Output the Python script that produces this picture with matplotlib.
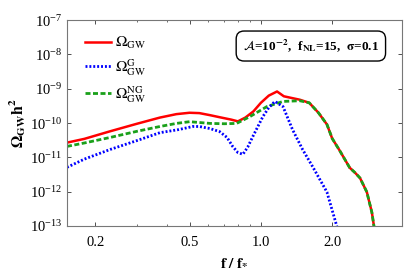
import numpy as np
import matplotlib
matplotlib.use("Agg")
import matplotlib.pyplot as plt
from matplotlib.ticker import FixedLocator, FixedFormatter, LogLocator, NullLocator

plt.rcParams['font.family'] = ['Liberation Serif', 'DejaVu Serif']
plt.rcParams['mathtext.fontset'] = 'stix'

# values, log10 of Omega_GW h^2
f_tot = [0.152, 0.18, 0.231, 0.30, 0.375, 0.44, 0.50, 0.55, 0.61, 0.67, 0.75, 0.80, 0.86, 0.93,
         1.0, 1.08, 1.17, 1.25, 1.35, 1.46, 1.60, 1.75, 1.90, 2.0, 2.15, 2.37, 2.50, 2.62, 2.80, 2.94, 3.0, 3.05]
lg_tot = [-10.57, -10.46, -10.24, -10.02, -9.84, -9.74, -9.70, -9.71, -9.77, -9.83, -9.90, -9.95, -9.84, -9.66,
          -9.41, -9.20, -9.08, -9.22, -9.27, -9.32, -9.41, -9.70, -10.04, -10.45, -10.80, -11.30, -11.45, -11.60, -12.01, -12.6, -13.0, -13.3]

f_g = [0.152, 0.18, 0.231, 0.30, 0.375, 0.45, 0.516, 0.55, 0.61, 0.67, 0.72, 0.76, 0.80, 0.84, 0.88, 0.925,
       1.02, 1.08, 1.146, 1.24, 1.36, 1.50, 1.66, 1.90, 2.09, 2.12]
lg_g = [-11.29, -11.05, -10.77, -10.51, -10.28, -10.19, -10.10, -10.10, -10.16, -10.25, -10.42, -10.68, -10.86, -10.91, -10.70, -10.39,
        -9.81, -9.55, -9.37, -9.52, -10.19, -10.77, -11.29, -12.01, -13.0, -13.3]

f_ng = [0.152, 0.18, 0.231, 0.30, 0.375, 0.44, 0.50, 0.61, 0.70, 0.79, 0.90, 1.06, 1.24, 1.46,
        1.60, 1.75, 1.90, 2.0, 2.15, 2.37, 2.50, 2.62, 2.80, 2.94, 3.0, 3.05]
lg_ng = [-10.68, -10.58, -10.42, -10.24, -10.10, -10.01, -9.96, -10.01, -10.02, -10.01, -9.81, -9.52, -9.37, -9.35,
         -9.41, -9.70, -10.04, -10.45, -10.80, -11.30, -11.45, -11.60, -12.01, -12.6, -13.0, -13.3]

x_major = [0.2, 0.5, 1.0, 2.0]
x_major_labels = ["0.2", "0.5", "1.0", "2.0"]
x_minor = [0.3, 0.4, 0.6, 0.7, 0.8, 0.9]

fig = plt.figure(figsize=(4.07, 2.75), dpi=100)
ax = fig.add_axes([0.1646, 0.178, 0.8231, 0.749])

ax.plot(f_tot, 10.0 ** np.array(lg_tot), color='#ff0000', lw=1.8, label=r'$\Omega_{\rm GW}$')
ax.plot(f_ng, 10.0 ** np.array(lg_ng), color='#1aa01a', lw=2.0, ls=(0, (1.8, 0.9)),
        label=r'$\Omega_{\rm GW}^{\rm NG}$')
ax.plot(f_g, 10.0 ** np.array(lg_g), color='#0000ff', lw=2.0, ls=(0, (0.7, 0.7)),
        label=r'$\Omega_{\rm GW}^{\rm G}$')

ax.set_xscale('log')
ax.set_yscale('log')
ax.set_xlim(0.152, 3.94)
ax.set_ylim(1e-13, 1e-7)

ax.xaxis.set_major_locator(FixedLocator(x_major))
ax.xaxis.set_major_formatter(FixedFormatter(x_major_labels))
ax.xaxis.set_minor_locator(FixedLocator(x_minor))
ax.xaxis.set_minor_formatter(FixedFormatter([""] * len(x_minor)))
ax.yaxis.set_major_locator(LogLocator(base=10, numticks=10))
ax.yaxis.set_minor_locator(NullLocator())

ax.tick_params(which='both', direction='in', top=True, right=True, labelsize=10.5, colors='#333333',
               labelcolor='black')
ax.tick_params(which='major', length=3, width=0.6)
ax.tick_params(which='minor', length=1.6, width=0.5)
ax.tick_params(axis='x', pad=7)
for s in ax.spines.values():
    s.set_color('#777777')
    s.set_linewidth(0.8)

ax.set_xlabel(r'$\mathbf{f\ /\ f_{*}}$', fontsize=11, labelpad=5)
ax.set_ylabel(r'$\mathbf{\Omega_{GW}h^2}$', fontsize=11.5, labelpad=1)

h, l = ax.get_legend_handles_labels()
ax.legend([h[0], h[2], h[1]], [l[0], l[2], l[1]], loc='upper left', bbox_to_anchor=(0.012, 0.995),
          frameon=False, fontsize=11, handlelength=1.7, labelspacing=0.4, handletextpad=0.3)

ax.text(0.728, 0.874, r'$\mathbf{\mathcal{A}}$=10$^{\mathbf{-2}}$,  f$_{\mathbf{NL}}$=15,  $\mathbf{\sigma}$=0.1',
        transform=ax.transAxes, ha='center', va='center', fontsize=9.5, fontweight='bold',
        bbox=dict(boxstyle='round,pad=0.5,rounding_size=0.6', fc='white', ec='black', lw=1.0))

fig.savefig('out.png', dpi=100)
